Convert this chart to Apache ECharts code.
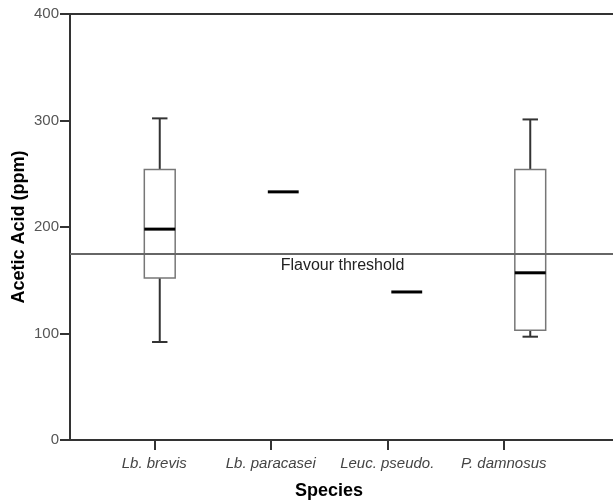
<!DOCTYPE html>
<html>
<head>
<meta charset="utf-8">
<script src="https://cdn.jsdelivr.net/npm/echarts@6/dist/echarts.min.js"></script>
<style>
  html, body { margin: 0; padding: 0; background: #fff; }
  #main { width: 613px; height: 502px; }
</style>
</head>
<body>
<div id="main"></div>
<script>
var dom = document.getElementById('main');
var myChart = echarts.init(dom, null, { renderer: 'canvas' });

// data
var species = ['Lb. brevis', 'Lb. paracasei', 'Leuc. pseudo.', 'P. damnosus'];
var whiskerLow  = [92, 233, 139, 97];
var q1          = [152, 233, 139, 103];
var median      = [198, 233, 139, 157];
var q3          = [254, 233, 139, 254];
var whiskerHigh = [302, 233, 139, 301];
var flavourThreshold = 175;
var yTicks = [0, 100, 200, 300, 400];

var boxData = species.map(function (s, i) {
    return [i, whiskerLow[i], q1[i], median[i], q3[i], whiskerHigh[i]];
});

function renderBox(params, api) {
    var i = api.value(0);
    var bw = api.size([1, 0])[0] * 0.25;
    var pLow = api.coord([i, api.value(1)]);
    var pQ1 = api.coord([i, api.value(2)]);
    var pMed = api.coord([i, api.value(3)]);
    var pQ3 = api.coord([i, api.value(4)]);
    var pHigh = api.coord([i, api.value(5)]);
    var x = pMed[0];
    var cap = bw * 0.5;
    var children = [];
    var flat = api.value(2) === api.value(4);
    if (!flat) {
        var wStyle = { stroke: '#333', lineWidth: 2 };
        children.push(
            { type: 'line', shape: { x1: x, y1: pQ3[1], x2: x, y2: pHigh[1] }, style: wStyle },
            { type: 'line', shape: { x1: x - cap / 2, y1: pHigh[1], x2: x + cap / 2, y2: pHigh[1] }, style: wStyle },
            { type: 'line', shape: { x1: x, y1: pQ1[1], x2: x, y2: pLow[1] }, style: wStyle },
            { type: 'line', shape: { x1: x - cap / 2, y1: pLow[1], x2: x + cap / 2, y2: pLow[1] }, style: wStyle },
            {
                type: 'rect',
                shape: { x: x - bw / 2, y: pQ3[1], width: bw, height: pQ1[1] - pQ3[1] },
                style: { fill: 'rgba(255,255,255,0)', stroke: '#777', lineWidth: 1.5 }
            }
        );
    }
    children.push({
        type: 'line',
        shape: { x1: x - bw / 2, y1: pMed[1], x2: x + bw / 2, y2: pMed[1] },
        style: { stroke: '#000', lineWidth: 3 }
    });
    return { type: 'group', children: children };
}

var option = {
    animation: false,
    grid: [
        // frame
        { left: 70, right: -2, top: 14, bottom: 62, outerBoundsMode: 'none' },
        // boxes
        { left: 98, right: 21, top: 14, bottom: 62, outerBoundsMode: 'none' },
        // category labels
        { left: 96, right: 51, top: 14, bottom: 62, outerBoundsMode: 'none' }
    ],
    xAxis: [
        {
            gridIndex: 0, type: 'category', data: [''], position: 'bottom',
            axisLine: { lineStyle: { color: '#333', width: 2 } },
            axisTick: { show: false }, axisLabel: { show: false }, splitLine: { show: false }
        },
        {
            gridIndex: 0, type: 'category', data: [''], position: 'top',
            axisLine: { onZero: false, lineStyle: { color: '#333', width: 2 } },
            axisTick: { show: false }, axisLabel: { show: false }, splitLine: { show: false }
        },
        {
            gridIndex: 1, type: 'category', data: species, show: false
        },
        {
            gridIndex: 2, type: 'category', data: species,
            axisLine: { show: false },
            axisTick: { show: true, alignWithLabel: true, length: 10, lineStyle: { color: '#333', width: 2 } },
            axisLabel: {
                interval: 0, margin: 16, color: '#444', fontSize: 15, fontStyle: 'italic',
                fontFamily: 'Liberation Sans, Arial, sans-serif'
            },
            name: 'Species', nameLocation: 'middle', nameGap: 42, nameMoveOverlap: false,
            nameTextStyle: {
                color: '#000', fontSize: 18, fontWeight: 'bold',
                fontFamily: 'Liberation Sans, Arial, sans-serif'
            }
        }
    ],
    yAxis: [
        {
            gridIndex: 0, type: 'value', min: yTicks[0], max: yTicks[yTicks.length - 1], interval: 100,
            axisLine: { show: true, lineStyle: { color: '#333', width: 2 } },
            axisTick: { show: true, length: 10, lineStyle: { color: '#333', width: 2 } },
            axisLabel: {
                margin: 11, color: '#555', fontSize: 15,
                fontFamily: 'Liberation Sans, Arial, sans-serif'
            },
            splitLine: { show: false },
            name: 'Acetic Acid (ppm)', nameLocation: 'middle', nameGap: 42, nameMoveOverlap: false,
            nameTextStyle: {
                color: '#000', fontSize: 18, fontWeight: 'bold',
                fontFamily: 'Liberation Sans, Arial, sans-serif'
            }
        },
        {
            gridIndex: 1, type: 'value', min: yTicks[0], max: yTicks[yTicks.length - 1], show: false
        },
        {
            gridIndex: 2, type: 'value', min: yTicks[0], max: yTicks[yTicks.length - 1], show: false
        }
    ],
    series: [
        {
            name: 'threshold',
            type: 'line',
            xAxisIndex: 0, yAxisIndex: 0,
            data: [],
            markLine: {
                silent: true,
                symbol: 'none',
                lineStyle: { color: '#666', width: 2, type: 'solid' },
                label: {
                    show: true,
                    position: 'insideMiddleBottom',
                    formatter: 'Flavour threshold',
                    color: '#222', fontSize: 16, distance: 4,
                    fontFamily: 'Liberation Sans, Arial, sans-serif'
                },
                data: [{ yAxis: flavourThreshold }]
            }
        },
        {
            name: 'Acetic Acid',
            type: 'custom',
            xAxisIndex: 2, yAxisIndex: 1,
            renderItem: renderBox,
            encode: { x: 0, y: [1, 2, 3, 4, 5] },
            data: boxData
        }
    ]
};

myChart.setOption(option);
window.addEventListener('resize', myChart.resize);
</script>
</body>
</html>
